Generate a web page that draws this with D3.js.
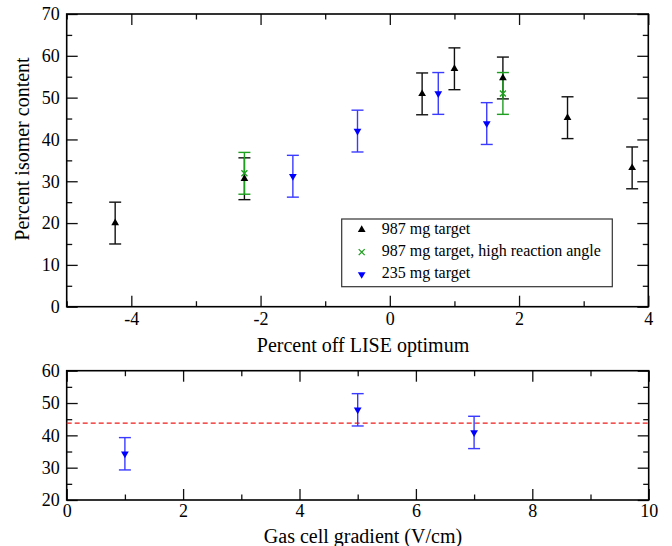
<!DOCTYPE html>
<html>
<head>
<meta charset="utf-8">
<script src="https://cdn.jsdelivr.net/npm/d3@7"></script>
<style>
  html, body { margin: 0; padding: 0; background: #fff; }
  svg { display: block; }
  text { font-family: "Liberation Serif", "Times New Roman", serif; fill: #000; }
</style>
</head>
<body>
<svg id="chart" width="672" height="546"></svg>
<script>
// ---------- data (top panel) ----------
const blackX   = [-4.25, -2.25, 0.5, 1.0, 1.75, 2.75, 3.75];
const blackY   = [20.0, 30.6, 50.9, 56.9, 54.7, 45.2, 33.2];
const blackErr = [5, 5, 5, 5, 5, 5, 5];

const greenX   = [-2.25, 1.75];
const greenY   = [31.9, 51.0];
const greenErr = [5, 5];

const blueX    = [-1.5, -0.5, 0.75, 1.5];
const blueY    = [31.2, 42.0, 51.0, 43.8];
const blueErr  = [5, 5, 5, 5];

const legendLabels = ["987 mg target", "987 mg target, high reaction angle", "235 mg target"];

const topXMajor = [-4, -2, 0, 2, 4];
const topXMinor = [-5, -3, -1, 1, 3];
const topYMajor = [0, 10, 20, 30, 40, 50, 60, 70];
const topYMinor = [5, 15, 25, 35, 45, 55, 65];

// ---------- data (bottom panel) ----------
const gradX    = [1, 5, 7];
const gradY    = [34.3, 47.9, 40.9];
const gradErr  = [5, 5, 5];
const meanLine = [43.8];

const botXMajor = [0, 2, 4, 6, 8, 10];
const botXMinor = [1, 3, 5, 7, 9];
const botYMajor = [20, 30, 40, 50, 60];
const botYMinor = [25, 35, 45, 55];

const titleTopX = "Percent off LISE optimum";
const titleTopY = "Percent isomer content";
const titleBotX = "Gas cell gradient (V/cm)";

// ---------- drawing ----------
const svg = d3.select("#chart");
const BLACK = "#000", GREEN = "#1f9f1f", BLUE = "#0000ff", BLUE_ERR = "#3b3bff", RED = "#ee1c1c";

function panel(cfg) {
  const x = d3.scaleLinear().domain(cfg.xDom).range([cfg.left, cfg.right]);
  const y = d3.scaleLinear().domain(cfg.yDom).range([cfg.bottom, cfg.top]);
  const g = svg.append("g");
  const fmt = d => String(d);
  const MAJ = 11, MIN = 5.5;

  function addAxis(axis, tr, labels) {
    const a = g.append("g").attr("transform", tr).call(axis);
    a.select(".domain").remove();
    a.selectAll("line").attr("stroke", "#111").attr("stroke-width", 1.3);
    a.selectAll("text").style("font-family", '"Liberation Serif", serif').style("font-size", "18px").attr("fill", "#000");
    if (!labels) a.selectAll("text").remove();
    return a;
  }
  addAxis(d3.axisBottom(x).tickValues(cfg.xMajor).tickSize(-MAJ).tickPadding(cfg.xPad).tickFormat(fmt), `translate(0,${cfg.bottom})`, true);
  addAxis(d3.axisBottom(x).tickValues(cfg.xMinor).tickSize(-MIN).tickFormat(""), `translate(0,${cfg.bottom})`, false);
  addAxis(d3.axisTop(x).tickValues(cfg.xMajor).tickSize(-MAJ).tickFormat(""), `translate(0,${cfg.top})`, false);
  addAxis(d3.axisTop(x).tickValues(cfg.xMinor).tickSize(-MIN).tickFormat(""), `translate(0,${cfg.top})`, false);
  addAxis(d3.axisLeft(y).tickValues(cfg.yMajor).tickSize(-MAJ).tickPadding(7).tickFormat(fmt), `translate(${cfg.left},0)`, true);
  addAxis(d3.axisLeft(y).tickValues(cfg.yMinor).tickSize(-MIN).tickFormat(""), `translate(${cfg.left},0)`, false);
  addAxis(d3.axisRight(y).tickValues(cfg.yMajor).tickSize(-MAJ).tickFormat(""), `translate(${cfg.right},0)`, false);
  addAxis(d3.axisRight(y).tickValues(cfg.yMinor).tickSize(-MIN).tickFormat(""), `translate(${cfg.right},0)`, false);

  g.append("rect")
    .attr("x", cfg.left).attr("y", cfg.top)
    .attr("width", cfg.right - cfg.left).attr("height", cfg.bottom - cfg.top)
    .attr("fill", "none").attr("stroke", "#000").attr("stroke-width", 1.6);
  return { x, y, g };
}

function errorBars(p, xs, ys, es, color) {
  const cap = 6;
  const gg = p.g.append("g").attr("stroke", color).attr("stroke-width", 1.4).attr("fill", "none");
  xs.forEach((xv, i) => {
    const cx = p.x(xv), y1 = p.y(ys[i] + es[i]), y0 = p.y(ys[i] - es[i]);
    gg.append("line").attr("x1", cx).attr("x2", cx).attr("y1", y1).attr("y2", y0);
    gg.append("line").attr("x1", cx - cap).attr("x2", cx + cap).attr("y1", y1).attr("y2", y1);
    gg.append("line").attr("x1", cx - cap).attr("x2", cx + cap).attr("y1", y0).attr("y2", y0);
  });
}

const triUp = d3.symbol().type(d3.symbolTriangle).size(26)();
function drawSym(parent, kind, cx, cy, color) {
  if (kind === "up") {
    parent.append("path").attr("d", triUp).attr("fill", color)
      .attr("transform", `translate(${cx},${cy})`);
  } else if (kind === "down") {
    parent.append("path").attr("d", triUp).attr("fill", color)
      .attr("transform", `translate(${cx},${cy}) rotate(180)`);
  } else {
    const s = 3;
    parent.append("path").attr("d", `M${-s},${-s}L${s},${s}M${-s},${s}L${s},${-s}`)
      .attr("stroke", color).attr("stroke-width", 1.3).attr("fill", "none")
      .attr("transform", `translate(${cx},${cy})`);
  }
}
function markers(p, xs, ys, kind, color) {
  const gg = p.g.append("g");
  xs.forEach((xv, i) => drawSym(gg, kind, p.x(xv), p.y(ys[i]), color));
}

// ---- top panel ----
const topPanel = panel({
  xDom: [-5, 4], yDom: [0, 70],
  left: 66.7, right: 648.3, top: 14, bottom: 306.7,
  xMajor: topXMajor, xMinor: topXMinor, yMajor: topYMajor, yMinor: topYMinor,
  xPad: 6
});
errorBars(topPanel, blackX, blackY, blackErr, "#111");
errorBars(topPanel, greenX, greenY, greenErr, GREEN);
errorBars(topPanel, blueX, blueY, blueErr, BLUE_ERR);
markers(topPanel, blackX, blackY, "up", BLACK);
markers(topPanel, greenX, greenY, "x", GREEN);
markers(topPanel, blueX, blueY, "down", BLUE);

// legend
const lg = svg.append("g");
lg.append("rect").attr("x", 341.7).attr("y", 219).attr("width", 270.6).attr("height", 67.7)
  .attr("fill", "#fff").attr("stroke", "#333").attr("stroke-width", 1.2);
const legKinds = [["up", BLACK], ["x", GREEN], ["down", BLUE]];
legendLabels.forEach((lab, i) => {
  const by = 233.8 + i * 22.3;
  drawSym(lg, legKinds[i][0], 361.7, by - 4, legKinds[i][1]);
  lg.append("text").attr("x", 381.7).attr("y", by).style("font-size", "16px").text(lab);
});

svg.append("text").attr("x", 363).attr("y", 351.5).attr("text-anchor", "middle")
  .style("font-size", "20px").text(titleTopX);
svg.append("text").attr("transform", "translate(28.5,149) rotate(-90)").attr("text-anchor", "middle")
  .style("font-size", "20px").text(titleTopY);

// ---- bottom panel ----
const botPanel = panel({
  xDom: [0, 10], yDom: [20, 60],
  left: 66.7, right: 648.7, top: 370.7, bottom: 500,
  xMajor: botXMajor, xMinor: botXMinor, yMajor: botYMajor, yMinor: botYMinor,
  xPad: 4.5
});
botPanel.g.selectAll(".mean").data(meanLine).enter().append("line")
  .attr("class", "mean")
  .attr("x1", botPanel.x(0)).attr("x2", botPanel.x(10))
  .attr("y1", d => botPanel.y(d)).attr("y2", d => botPanel.y(d))
  .attr("stroke", RED).attr("stroke-width", 1.2).attr("stroke-dasharray", "5,3");
errorBars(botPanel, gradX, gradY, gradErr, BLUE_ERR);
markers(botPanel, gradX, gradY, "down", BLUE);

svg.append("text").attr("x", 363).attr("y", 543).attr("text-anchor", "middle")
  .style("font-size", "20px").text(titleBotX);
</script>
</body>
</html>
